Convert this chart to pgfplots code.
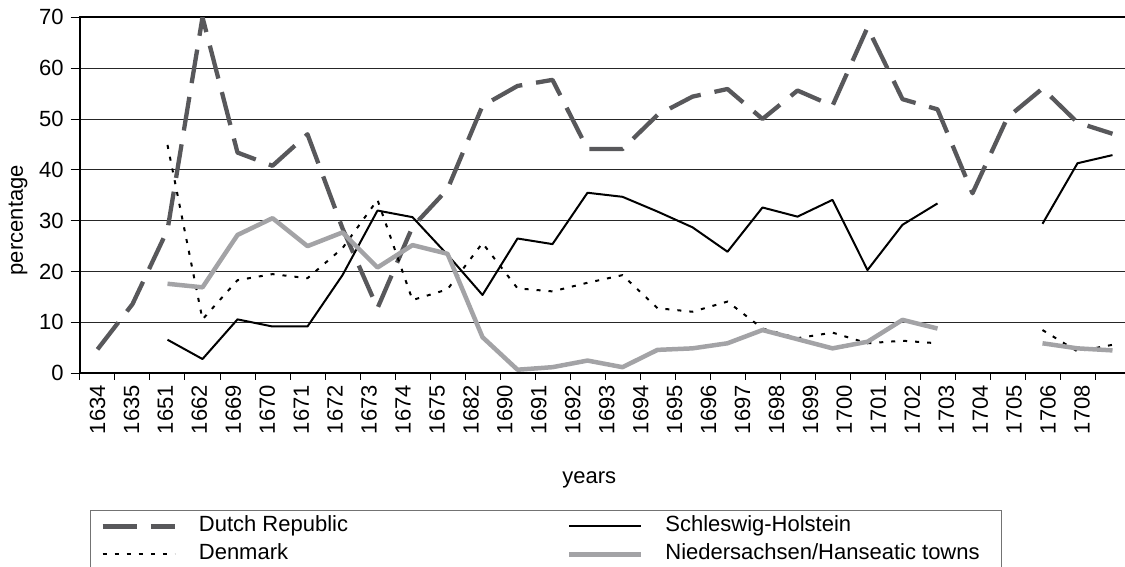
\documentclass[border=0pt]{standalone}
\usepackage{fontspec}
\setmainfont{Liberation Sans}
\usepackage{pgfplots}
\usepackage{pgfplotstable}
\pgfplotsset{compat=1.18}
\definecolor{dutch}{HTML}{58585B}
\definecolor{nieder}{HTML}{A3A3A6}
\pgfplotstableread{
x dutch schles denmark nieder
0 4.7 nan nan nan
1 13.6 nan nan nan
2 28.2 6.6 44.9 17.6
3 70 2.8 10.6 16.9
4 43.4 10.6 18.3 27.2
5 40.8 9.2 19.5 30.5
6 47.0 9.2 18.7 25.0
7 28.5 19.3 24.6 27.7
8 12.8 32.0 34.1 20.8
9 28.8 30.7 14.4 25.2
10 36.2 23.3 16.5 23.5
11 52.6 15.4 25.6 7.1
12 56.5 26.5 16.7 0.7
13 57.7 25.4 16.1 1.2
14 44.1 35.5 17.8 2.5
15 44.1 34.7 19.3 1.2
16 50.8 31.8 12.8 4.6
17 54.4 28.7 12.1 4.9
18 55.9 23.9 14.1 5.9
19 50.0 32.6 8.8 8.5
20 55.6 30.8 6.9 6.7
21 52.6 34.1 8.0 4.9
22 68.0 20.3 5.9 6.2
23 53.9 29.2 6.4 10.5
24 51.9 33.4 5.9 8.8
25 35.4 nan nan nan
26 50.3 nan nan nan
27 56.0 29.4 8.5 5.9
28 49.3 41.3 4.3 4.9
29 47.1 42.9 5.6 4.5
}\datatable
\begin{document}
\begin{tikzpicture}[font=\fontsize{11}{13}\selectfont]
\begin{axis}[
  name=ax,
  scale only axis, width=525pt, height=178pt,
  xmin=-0.5, xmax=29.5, ymin=0, ymax=70,
  axis line style={line width=1.1pt, black},
  tick align=outside, tick pos=left,
  xtick={0,0.97,1.94,2.91,3.88,4.85,5.82,6.79,7.76,8.73,9.70,10.67,11.64,12.61,13.58,14.55,15.52,16.49,17.46,18.43,19.40,20.37,21.34,22.31,23.28,24.25,25.22,26.19,27.16,28.13},
  xticklabels={1634,1635,1651,1662,1669,1670,1671,1672,1673,1674,1675,1682,1690,1691,1692,1693,1694,1695,1696,1697,1698,1699,1700,1701,1702,1703,1704,1705,1706,1708},
  minor xtick={-0.5,0.5,...,29.5},
  major x tick style={draw=none},
  minor tick length=3.3pt, major tick length=4.7pt,
  tick style={black, line width=0.5pt},
  xticklabel style={rotate=90, anchor=east, inner sep=1pt},
  ytick={0,10,...,70},
  ymajorgrids, major grid style={black!85, line width=0.5pt},
  /pgf/number format/assume math mode=true,
  xlabel={years}, ylabel={percentage},
  xlabel style={at={(axis description cs:0.485,-0.30)}, anchor=center},
  ylabel style={at={(axis description cs:-0.059,0.43)}, anchor=center},
  unbounded coords=jump,
  legend columns=2,
  legend cell align=left,
  legend image code/.code={\draw[#1, line cap=butt] (0pt,0pt) -- (36pt,0pt);},
  legend style={at={(axis description cs:0,0)}, anchor=north west,
    xshift=5pt, yshift=-68.5pt,
    draw=black!55, line width=0.6pt,
    inner xsep=5pt, inner ysep=2pt, row sep=2.5pt,
    nodes={inner xsep=0pt, inner ysep=0.5pt, text height=8pt, text depth=2.5pt},
    /tikz/every odd column/.append style={column sep=11pt}},
]
\addplot[dutch, line width=2.15pt, line join=round, dash pattern=on 17pt off 7pt] table[x=x,y=dutch]{\datatable};
\addlegendentry{\makebox[184pt][l]{Dutch Republic}}
\addplot[black, line width=1pt, line join=round] table[x=x,y=schles]{\datatable};
\addlegendentry{\makebox[163pt][l]{Schleswig-Holstein}}
\addplot[black, line width=1pt, dash pattern=on 2pt off 4pt] table[x=x,y=denmark]{\datatable};
\addlegendentry{\makebox[184pt][l]{Denmark}}
\addplot[nieder, line width=2.25pt, line join=round] table[x=x,y=nieder]{\datatable};
\addlegendentry{\makebox[163pt][l]{Niedersachsen/Hanseatic towns}}
\end{axis}
\pgfresetboundingbox
\path[use as bounding box] ([xshift=-40pt,yshift=-96.85pt]ax.south west) rectangle ([xshift=-2.5pt,yshift=8.65pt]ax.north east);
\end{tikzpicture}
\end{document}
